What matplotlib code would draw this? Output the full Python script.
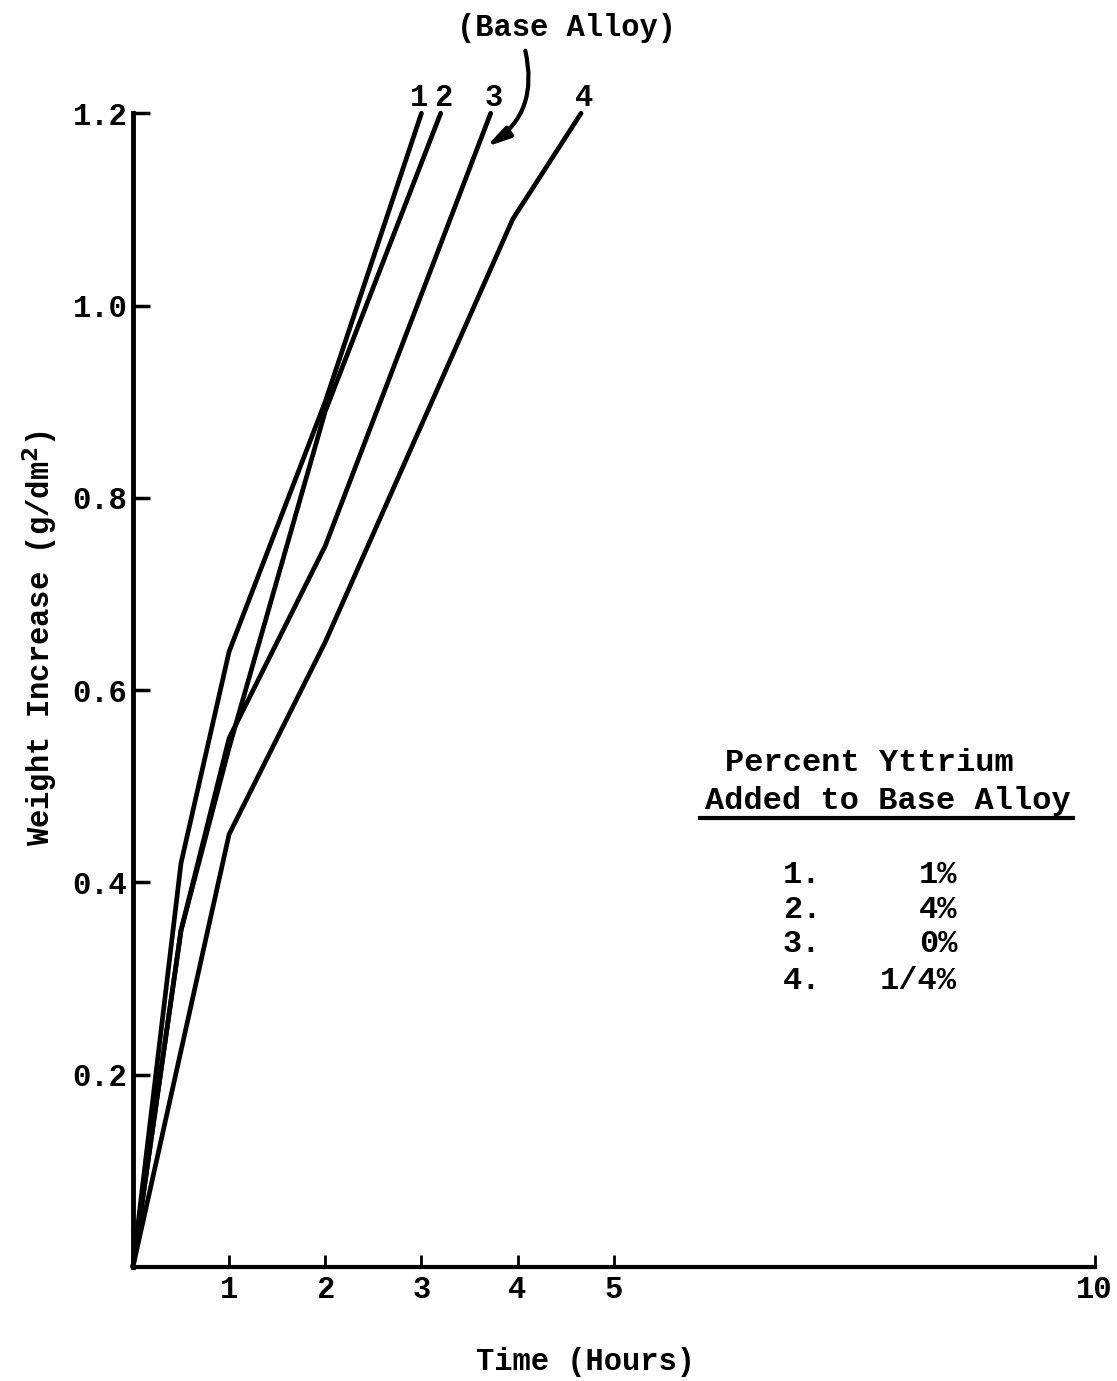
import matplotlib.pyplot as plt
from matplotlib.lines import Line2D

# Weight gain curves, one per yttrium addition
time_1 = [0, 0.5, 1, 2, 3.0]
gain_1 = [0, 0.42, 0.64, 0.90, 1.2]

time_2 = [0, 0.5, 1, 2, 3.2]
gain_2 = [0, 0.35, 0.54, 0.89, 1.2]

time_3 = [0, 0.5, 1, 2, 3.72]
gain_3 = [0, 0.35, 0.55, 0.75, 1.2]

time_4 = [0, 1, 2, 3.95, 4.66]
gain_4 = [0, 0.45, 0.65, 1.09, 1.2]

curve_ids = ["1", "2", "3", "4"]
yttrium_pct = ["1%", "4%", "0%", "1/4%"]

x_ticks = [1, 2, 3, 4, 5, 10]
y_ticks = [0.2, 0.4, 0.6, 0.8, 1.0, 1.2]

FONT = "Liberation Mono"
plt.rcParams['font.family'] = FONT
plt.rcParams['font.weight'] = 'bold'

fig = plt.figure(figsize=(11.17, 13.81), dpi=100)
ax = fig.add_axes([0.119, 0.0826, 0.861, 0.8354])

curves = [(time_1, gain_1), (time_2, gain_2), (time_3, gain_3), (time_4, gain_4)]
for t, w in curves:
    ax.plot(t, w, color='black', linewidth=3.4, solid_capstyle='round',
            solid_joinstyle='round', clip_on=False)

# curve numbers at the top end of each line
for cid, (t, w) in zip(curve_ids, curves):
    dx = -0.02 if cid == "1" else 0.03
    ax.text(t[-1] + dx, 1.216, cid, ha='center', va='center',
            fontsize=22, fontweight='bold')

ax.set_xlim(0, 10)
ax.set_ylim(0, 1.2)
ax.set_xticks(x_ticks)
ax.set_yticks(y_ticks)
ax.set_xticklabels([str(v) for v in x_ticks])
ax.set_yticklabels([f"{v:.1f}" for v in y_ticks])
ax.tick_params(axis='y', direction='in', length=12, width=2.5, labelsize=22, pad=4)
ax.tick_params(axis='x', direction='in', length=9, width=2, labelsize=22, pad=6)
for lab in ax.get_xticklabels() + ax.get_yticklabels():
    lab.set_fontweight('bold')

ax.spines['top'].set_visible(False)
ax.spines['right'].set_visible(False)
ax.spines['left'].set_linewidth(3.5)
ax.spines['bottom'].set_linewidth(3)

# axis titles placed directly on the figure
fig.text(0.524, 0.0138, "Time (Hours)", ha='center', va='center',
         fontsize=22, fontweight='bold')
fig.text(0.036, 0.538, "Weight Increase (g/dm$^\\mathbf{2}$)", ha='center',
         va='center', rotation=90, fontsize=22, fontweight='bold')

# arrow pointing the base alloy note at curve 3
ax.annotate("", xy=(3.67, 1.165), xytext=(4.08, 1.265),
            xycoords='data', textcoords='data', annotation_clip=False,
            arrowprops=dict(arrowstyle='-|>,head_length=1.4,head_width=0.35',
                            color='black', lw=3,
                            connectionstyle='arc3,rad=-0.35',
                            shrinkA=0, shrinkB=0))
fig.text(0.5076, 0.980, "(Base Alloy)", ha='center', va='center',
         fontsize=22, fontweight='bold')

# key for the curve numbers
fig.text(0.778, 0.4475, "Percent Yttrium", ha='center', va='center',
         fontsize=23, fontweight='bold')
fig.text(0.795, 0.420, "Added to Base Alloy", ha='center', va='center',
         fontsize=23, fontweight='bold')
fig.add_artist(Line2D([0.627, 0.961], [0.4077, 0.4077], color='black',
                      linewidth=3, transform=fig.transFigure))

row_y = [0.3664, 0.3410, 0.3164, 0.2900]
for cid, pct, y in zip(curve_ids, yttrium_pct, row_y):
    fig.text(0.701, y, cid + ".", ha='left', va='center', fontsize=23,
             fontweight='bold')
    fig.text(0.857, y, pct, ha='right', va='center', fontsize=23,
             fontweight='bold')

fig.savefig("out.png", dpi=100, facecolor='white')
